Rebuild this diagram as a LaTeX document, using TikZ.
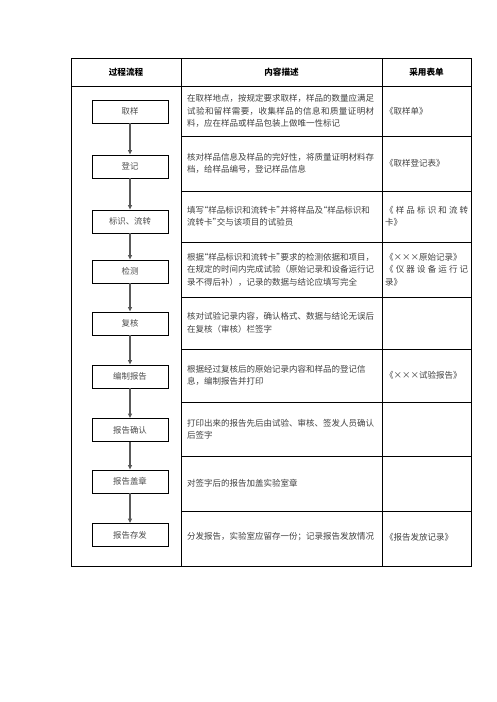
\documentclass[tikz,border=0pt]{standalone}
\usepackage{fontspec}
\setmainfont{Noto Sans CJK SC}
\usetikzlibrary{arrows.meta}
\newcommand\spreadbox[2]{\makebox[#1][s]{#2}}
\newcommand\oq{\makebox[0.5em][r]{“}}
\newcommand\cq{\makebox[0.5em][l]{”}}
\begin{document}
\begin{tikzpicture}[x=1pt,y=-1pt,
  tbl/.style={line width=0.9pt,black},
  flowbox/.style={draw=black,line width=0.8pt,minimum width=76pt,minimum height=23pt,inner sep=0pt,
     font=\fontsize{8.4}{10}\selectfont,text=black!70},
  flowarrow/.style={-{Triangle[length=4.5pt,width=4pt]},line width=1.1pt,black!65},
  desc/.style={anchor=west,inner sep=0pt,text width=200pt,align=left,
     font=\fontsize{8.5}{12.5}\selectfont,text=black!75},
  form/.style={anchor=west,inner sep=0pt,text width=90pt,align=left,
     font=\fontsize{8.5}{12.5}\selectfont,text=black!75},
  head/.style={font=\fontsize{8.6}{10}\selectfont\bfseries,inner sep=0pt}]
\useasboundingbox (0,0) rectangle (496,702);
% table frame
\draw[tbl] (71,58) rectangle (471,566);
\draw[tbl] (181,58) -- (181,566);
\draw[tbl] (382,58) -- (382,566);
\draw[tbl] (71,86) -- (471,86);
\foreach \y in {136,191,242,297,349,402,456,511}
  \draw[tbl] (181,\y) -- (471,\y);
% header
\node[head] (h1) at (126,72) {过程流程};
\node[head] (h2) at (281.5,72) {内容描述};
\node[head] (h3) at (426.5,72) {采用表单};
% flow boxes
\node[flowbox] (b1) at (130,111.5) {取样};
\node[flowbox] (b2) at (130,166.5) {登记};
\node[flowbox] (b3) at (130,221.5) {标识、流转};
\node[flowbox] (b4) at (130,271.5) {检测};
\node[flowbox] (b5) at (130,323.5) {复核};
\node[flowbox] (b6) at (130,376.5) {编制报告};
\node[flowbox] (b7) at (130,430) {报告确认};
\node[flowbox] (b8) at (130,481.5) {报告盖章};
\node[flowbox] (b9) at (130,535) {报告存发};
\foreach \a/\b in {b1/b2,b2/b3,b3/b4,b4/b5,b5/b6,b6/b7,b7/b8,b8/b9}
  \draw[flowarrow] (\a.south) -- (\b.north);
% descriptions
\node[desc] (d1) at (187,111) {在取样地点，按规定要求取样，样品的数量应满足\\\spreadbox{187pt}{试\hfil 验\hfil 和\hfil 留\hfil 样\hfil 需\hfil 要\hfil ，\hfil 收\hfil 集\hfil 样\hfil 品\hfil 的\hfil 信\hfil 息\hfil 和\hfil 质\hfil 量\hfil 证\hfil 明\hfil 材}\\料，应在样品或样品包装上做唯一性标记};
\node[desc] (d2) at (187,163.5) {核对样品信息及样品的完好性，将质量证明材料存\\档，给样品编号，登记样品信息};
\node[desc] (d3) at (187,216.5) {填写\oq 样品标识和流转卡\cq 并将样品及\oq 样品标识和\\流转卡\cq 交与该项目的试验员};
\node[desc] (d4) at (187,269.5) {根据\oq 样品标识和流转卡\cq 要求的检测依据和项目，\\在规定的时间内完成试验（原始记录和设备运行记\\录不得后补），记录的数据与结论应填写完全};
\node[desc] (d5) at (187,323) {核对试验记录内容，确认格式、数据与结论无误后\\在复核（审核）栏签字};
\node[desc] (d6) at (187,375.5) {根据经过复核后的原始记录内容和样品的登记信\\息，编制报告并打印};
\node[desc] (d7) at (187,429) {打印出来的报告先后由试验、审核、签发人员确认\\后签字};
\node[desc] (d8) at (187,483.5) {对签字后的报告加盖实验室章};
\node[desc] (d9) at (187,537) {分发报告，实验室应留存一份；记录报告发放情况};
% forms
\node[form] (f1) at (385,111) {《取样单》};
\node[form] (f2) at (385,163.5) {《取样登记表》};
\node[form] (f3) at (385,216.5) {\spreadbox{83pt}{《\hfil 样\hfil 品\hfil 标\hfil 识\hfil 和\hfil 流\hfil 转}\\卡》};
\node[form] (f4) at (385,269.5) {《×××原始记录》\\\spreadbox{83pt}{《\hfil 仪\hfil 器\hfil 设\hfil 备\hfil 运\hfil 行\hfil 记}\\录》};
\node[form] (f6) at (385,375.5) {《×××试验报告》};
\node[form] (f9) at (385,537) {《报告发放记录》};
\end{tikzpicture}
\end{document}
